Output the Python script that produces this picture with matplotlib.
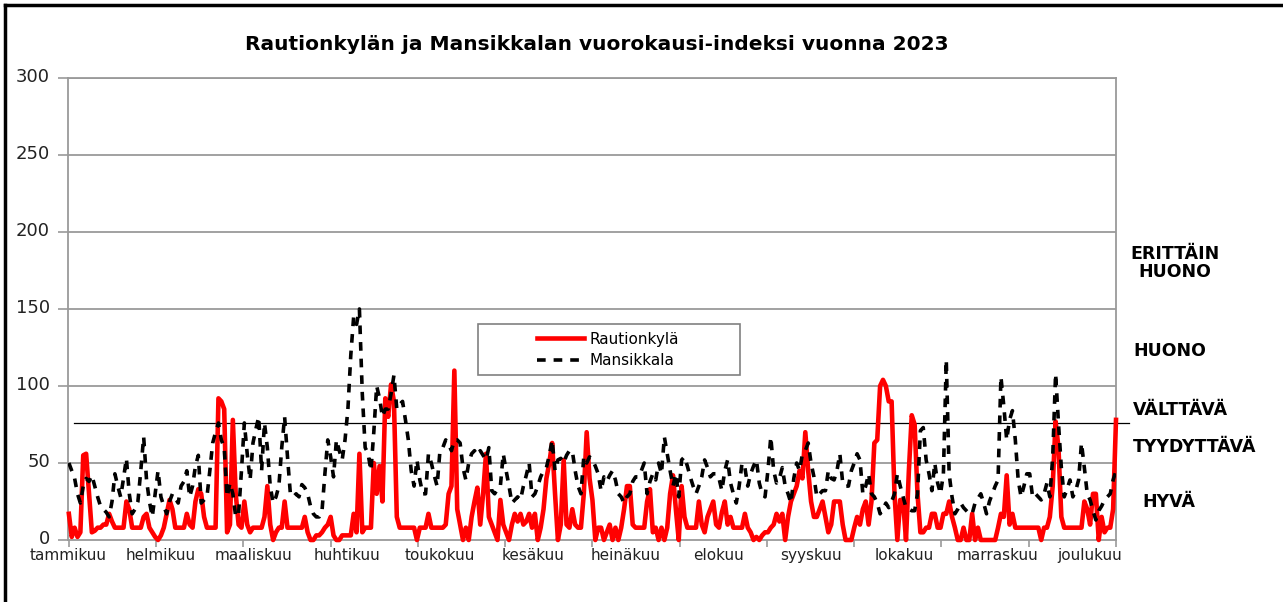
import numpy as np
import matplotlib
matplotlib.use("Agg")
import matplotlib.pyplot as plt
import matplotlib.transforms as mtransforms
from matplotlib.lines import Line2D
from matplotlib.patches import Rectangle

# ---------------- data ----------------
title = "Rautionkylän ja Mansikkalan vuorokausi-indeksi vuonna 2023"
months = ["tammikuu", "helmikuu", "maaliskuu", "huhtikuu", "toukokuu", "kesäkuu",
          "heinäkuu", "elokuu", "syyskuu", "lokakuu", "marraskuu", "joulukuu"]
series_names = ["Rautionkylä", "Mansikkala"]
class_labels = ["ERITTÄIN\nHUONO", "HUONO", "VÄLTTÄVÄ", "TYYDYTTÄVÄ", "HYVÄ"]
threshold = 76

# Rautionkylä daily index
jan_r = [17, 2, 8, 2, 5, 55, 56, 30, 5, 6, 8, 8, 10, 10, 17, 12, 8, 8, 8, 8, 25, 20, 8, 8, 8, 8, 15, 17, 8, 5, 2]
feb_r = [0, 3, 8, 17, 26, 20, 8, 8, 8, 8, 17, 10, 8, 25, 33, 30, 15, 8, 8, 8, 8, 92, 90, 85, 5, 10, 78, 30]
mar_r = [10, 8, 25, 10, 5, 8, 8, 8, 8, 15, 35, 10, 0, 5, 8, 8, 25, 8, 8, 8, 8, 8, 8, 15, 5, 0, 0, 3, 3, 5, 8]
apr_r = [10, 15, 3, 0, 0, 3, 3, 3, 3, 17, 5, 56, 5, 8, 8, 8, 50, 30, 48, 25, 92, 80, 101, 90, 15, 8, 8, 8, 8, 8]
may_r = [8, 0, 8, 8, 8, 17, 8, 8, 8, 8, 8, 10, 30, 35, 110, 20, 10, 0, 8, 0, 15, 25, 34, 10, 30, 56, 15, 10, 5, 0, 26]
jun_r = [10, 5, 0, 10, 17, 12, 17, 10, 12, 17, 8, 17, 0, 8, 20, 40, 50, 63, 30, 0, 10, 52, 10, 8, 20, 10, 8, 8, 30, 70]
jul_r = [40, 26, 0, 8, 8, 0, 5, 10, 0, 8, 0, 8, 20, 35, 35, 10, 8, 8, 8, 8, 25, 33, 5, 8, 0, 8, 0, 8, 30, 42, 20]
aug_r = [0, 35, 15, 8, 8, 8, 8, 25, 10, 5, 15, 20, 25, 10, 8, 18, 25, 10, 15, 8, 8, 8, 8, 17, 8, 5, 0, 2, 0, 3, 5]
sep_r = [5, 8, 10, 17, 12, 17, 0, 15, 25, 30, 35, 45, 40, 70, 45, 25, 15, 15, 20, 25, 15, 5, 10, 25, 25, 25, 10, 0, 0, 0]
oct_r = [8, 15, 10, 20, 25, 10, 25, 63, 65, 100, 104, 100, 90, 90, 30, 0, 26, 25, 0, 45, 81, 75, 30, 5, 5, 8, 8, 17, 17, 8, 8]
nov_r = [17, 17, 25, 15, 8, 0, 0, 8, 0, 0, 17, 0, 8, 0, 0, 0, 0, 0, 0, 8, 17, 15, 42, 10, 17, 8, 8, 8, 8, 8]
dec_r = [8, 8, 8, 8, 0, 8, 8, 15, 35, 77, 60, 15, 8, 8, 8, 8, 8, 8, 8, 25, 20, 10, 30, 30, 0, 15, 5, 8, 8, 20, 78]

# Mansikkala daily index
jan_m = [50, 45, 40, 30, 24, 35, 40, 38, 42, 35, 28, 22, 20, 18, 15, 25, 43, 35, 28, 40, 53, 30, 17, 20, 25, 45, 67, 39, 25, 15, 30]
feb_m = [45, 28, 22, 17, 25, 30, 27, 24, 35, 38, 45, 28, 35, 48, 55, 24, 26, 28, 45, 63, 70, 76, 65, 60, 28, 37, 30, 15]
mar_m = [17, 45, 76, 56, 39, 63, 72, 80, 45, 76, 60, 35, 24, 28, 35, 60, 80, 54, 30, 28, 30, 28, 36, 34, 30, 22, 17, 15, 15, 19, 43]
apr_m = [65, 54, 41, 65, 58, 52, 65, 85, 120, 145, 140, 150, 95, 60, 56, 45, 70, 100, 92, 80, 85, 85, 95, 107, 85, 88, 90, 78, 65, 45]
may_m = [35, 52, 39, 30, 30, 56, 50, 42, 35, 58, 60, 65, 62, 58, 65, 65, 63, 47, 39, 50, 56, 58, 55, 58, 55, 52, 60, 32, 30, 33, 35]
jun_m = [56, 45, 35, 24, 26, 28, 26, 35, 42, 50, 28, 30, 35, 41, 45, 47, 55, 65, 45, 52, 53, 50, 55, 58, 58, 45, 35, 30, 54, 50]
jul_m = [54, 52, 48, 43, 32, 41, 38, 42, 45, 39, 30, 28, 24, 28, 30, 38, 41, 41, 45, 50, 30, 38, 43, 39, 50, 43, 67, 56, 45, 35, 43]
aug_m = [28, 52, 54, 48, 41, 35, 30, 35, 41, 52, 47, 41, 43, 43, 40, 32, 45, 52, 37, 30, 24, 35, 50, 47, 35, 43, 48, 52, 37, 30, 28]
sep_m = [45, 67, 45, 37, 40, 47, 35, 30, 24, 40, 50, 45, 56, 58, 63, 50, 41, 28, 30, 32, 32, 45, 40, 39, 45, 56, 37, 35, 35, 45]
oct_m = [50, 56, 52, 30, 35, 43, 30, 28, 24, 17, 20, 24, 21, 25, 30, 43, 35, 28, 21, 20, 19, 19, 30, 71, 73, 52, 43, 32, 50, 37, 30]
nov_m = [43, 117, 43, 28, 17, 20, 24, 21, 19, 17, 17, 24, 27, 30, 24, 17, 25, 30, 35, 39, 106, 87, 65, 78, 84, 65, 39, 28, 35, 43]
dec_m = [43, 28, 30, 28, 26, 30, 37, 28, 54, 108, 76, 47, 28, 33, 39, 28, 32, 39, 63, 47, 30, 26, 19, 13, 19, 22, 26, 28, 30, 39, 45]

rautionkyla = (jan_r + feb_r + mar_r + apr_r + may_r + jun_r + jul_r + aug_r
               + sep_r + oct_r + nov_r + dec_r)
mansikkala = (jan_m + feb_m + mar_m + apr_m + may_m + jun_m + jul_m + aug_m
              + sep_m + oct_m + nov_m + dec_m)
days = np.arange(len(rautionkyla))

# ---------------- figure ----------------
W, H = 1283, 602
fig = plt.figure(figsize=(W / 100, H / 100), dpi=100)
fig.patch.set_facecolor("white")
ax = fig.add_axes([68 / W, 62 / H, 1048 / W, 462 / H])

grid_col = "#9a9a9a"
ax.set_ylim(0, 300)
ax.set_xlim(0, days[-1])
ax.set_yticks(np.arange(0, 301, 50))
for y in np.arange(50, 301, 50):
    ax.axhline(y, color=grid_col, lw=1.3, zorder=1)

ax.plot(days, rautionkyla, color="#ff0000", lw=3.3, solid_joinstyle="round",
        zorder=3, clip_on=False, label=series_names[0])
ax.plot(days, mansikkala, color="black", lw=2.6, dashes=(2.4, 2.2),
        zorder=4, label=series_names[1])

# threshold line
ax.plot([0.006, 1.012], [threshold, threshold], color="black", lw=0.9,
        transform=ax.get_yaxis_transform(), clip_on=False, zorder=2)

for s in ax.spines.values():
    s.set_color(grid_col)
    s.set_linewidth(1.3)

# month ticks and labels
ax.set_xticks(np.linspace(0, days[-1], 13))
ax.set_xticklabels([])
ax.tick_params(axis="x", which="major", length=5, color=grid_col, width=1.2, direction="out")
label_pos = np.arange(12) * days[-1] * 93.0 / 1048.0 - 0.3
ax.set_xticks(label_pos, minor=True)
ax.set_xticklabels(months, minor=True, fontsize=11, color="#222222")
ax.tick_params(axis="x", which="minor", length=0, pad=6)

ax.tick_params(axis="y", length=7, color=grid_col, width=1.2, labelsize=13,
               labelcolor="#222222", pad=6)
# nudge the y tick labels up slightly so "0" clears the month row
offset = mtransforms.ScaledTranslation(0, 2 / 72, fig.dpi_scale_trans)
for lbl in ax.get_yticklabels():
    lbl.set_transform(lbl.get_transform() + offset)

# legend with manual box
box_l, box_r = (478 - 68) / 1048, (740 - 68) / 1048
box_b, box_t = (540 - 375) / 462, (540 - 324) / 462
ax.add_patch(Rectangle((box_l, box_b), box_r - box_l, box_t - box_b,
                       transform=ax.transAxes, facecolor="white",
                       edgecolor="#808080", lw=1.2, zorder=5))
leg = ax.legend(loc="center", bbox_to_anchor=((608 - 68) / 1048, (540 - 350) / 462),
                frameon=False, fontsize=11, handlelength=3.1, handletextpad=0.35,
                labelspacing=0.45)
leg.set_zorder(6)

# title
fig.text(597 / W, 1 - 44 / H, title, ha="center", va="center",
         fontsize=14.5, fontweight="bold")

# class labels on the right
lab_pos = [(1175, 263, "center"), (1133, 351, "left"), (1133, 410, "left"),
           (1133, 447, "left"), (1142, 502, "left")]
for (px, py, ha), txt in zip(lab_pos, class_labels):
    fig.text(px / W, 1 - py / H, txt, ha=ha, va="center", fontsize=12.5,
             fontweight="bold", linespacing=1.0)

# outer frame (top and left edges)
fig.add_artist(Line2D([5 / W, 5 / W], [0, 1 - 5 / H], color="black", lw=2.5,
                      transform=fig.transFigure))
fig.add_artist(Line2D([5 / W, 1], [1 - 5 / H, 1 - 5 / H], color="black", lw=2.5,
                      transform=fig.transFigure))

fig.savefig("out.png", dpi=100)
